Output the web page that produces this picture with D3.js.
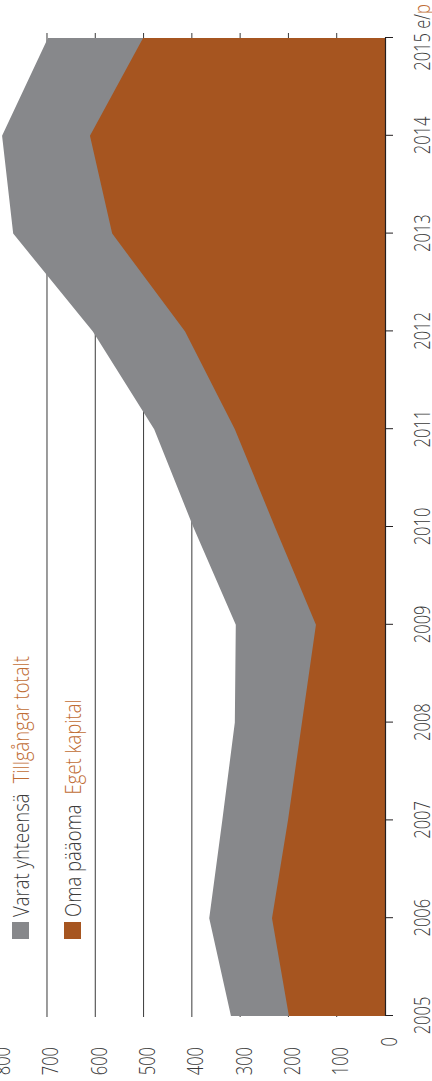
<!DOCTYPE html>
<html>
<head>
<meta charset="utf-8">
<script src="https://cdn.jsdelivr.net/npm/d3@7"></script>
<style>
  html, body { margin: 0; padding: 0; background: #fff; }
  svg { display: block; }
  text { font-family: "Open Sans", "Lato", sans-serif; font-weight: 300; }
</style>
</head>
<body>
<div id="chart"></div>
<script>
// ---- data ----
const years = [2005, 2006, 2007, 2008, 2009, 2010, 2011, 2012, 2013, 2014, 2015];
const yearLabels = ["2005", "2006", "2007", "2008", "2009", "2010", "2011", "2012", "2013", "2014", "2015"];
const lastYearSuffix = "e/";
const lastYearSuffix2 = "p";
const totalAssets = [319, 364, 337, 311, 309, 397, 478, 605, 770, 793, 698]; // Varat yhteensä
const equity = [199, 234, 201, 172, 143, 228, 311, 414, 565, 611, 501];      // Oma pääoma
const valueTicks = [0, 100, 200, 300, 400, 500, 600, 700, 800];
const legendFi = ["Varat yhteensä", "Oma pääoma"];
const legendSv = ["Tillgångar totalt", "Eget kapital"];

// ---- layout (chart is drawn in an unrotated frame, then rotated -90°) ----
const SW = 432, SH = 1081;
const GRAY = "#87888b", ORANGE = "#a65520", TEXT = "#3a3a3a", ORANGE_TEXT = "#bf6d34";
const K = 1.28; // vertical stretch of glyphs

const svg = d3.select("#chart").append("svg")
  .attr("width", SW).attr("height", SH);

const g = svg.append("g").attr("transform", `translate(0,${SH}) rotate(-90)`);

const x = d3.scaleLinear().domain([2005, 2015]).range([65, 1043]);
const y = d3.scaleLinear().domain([0, 800]).range([385, -1.3]);

// gridlines
g.append("g").selectAll("line")
  .data(valueTicks.filter(d => d > 0))
  .join("line")
  .attr("x1", 64).attr("x2", 1048)
  .attr("y1", d => y(d)).attr("y2", d => y(d))
  .attr("stroke", "#3a3a3a").attr("stroke-width", 1);

// areas
const rows = years.map((yr, i) => ({ yr, total: totalAssets[i], eq: equity[i] }));
const areaTotal = d3.area().x(d => x(d.yr)).y0(y(0)).y1(d => y(d.total));
const areaEq = d3.area().x(d => x(d.yr)).y0(y(0)).y1(d => y(d.eq));
g.append("path").datum(rows).attr("d", areaTotal).attr("fill", GRAY);
g.append("path").datum(rows).attr("d", areaEq).attr("fill", ORANGE);

// year axis
const axis = d3.axisBottom(x).tickValues(years).tickSize(8).tickSizeOuter(0).tickFormat(() => "");
const ax = g.append("g").attr("transform", `translate(0,${y(0)})`).call(axis);
ax.select(".domain").attr("stroke", "#231f20").attr("stroke-width", 1.2);
ax.selectAll(".tick line").attr("stroke", "#231f20").attr("stroke-width", 1);
ax.selectAll(".tick text").remove();
ax.selectAll(".tick").each(function (d, i) {
  const t = d3.select(this).append("text")
    .attr("transform", `translate(0,45) scale(1,${K})`)
    .attr("text-anchor", "middle")
    .attr("font-size", 16.5)
    .attr("fill", TEXT);
  t.append("tspan").text(yearLabels[i]);
  if (i === years.length - 1) {
    t.append("tspan").text(" " + lastYearSuffix);
    t.append("tspan").attr("fill", ORANGE_TEXT).text(lastYearSuffix2);
  }
});

// value labels
g.append("g").selectAll("text")
  .data(valueTicks)
  .join("text")
  .attr("transform", d => `translate(${d === 0 ? 44 : 34},${y(d) + 11.5}) scale(1,${K})`)
  .attr("text-anchor", "end")
  .attr("font-size", 16.5)
  .attr("fill", TEXT)
  .text(d => d);

// legend
const legendColors = [GRAY, ORANGE];
const legendRowV = [12, 64];
const lg = g.append("g");
legendFi.forEach((name, i) => {
  lg.append("rect")
    .attr("x", 142).attr("y", legendRowV[i])
    .attr("width", 17).attr("height", 17)
    .attr("fill", legendColors[i]);
  const t = lg.append("text")
    .attr("transform", `translate(164,${legendRowV[i] + 17}) scale(1,1.15)`)
    .attr("font-size", 18.5);
  t.append("tspan").attr("fill", TEXT).text(name);
  t.append("tspan").attr("fill", ORANGE_TEXT).attr("dx", 10).text(legendSv[i]);
});
</script>
</body>
</html>
